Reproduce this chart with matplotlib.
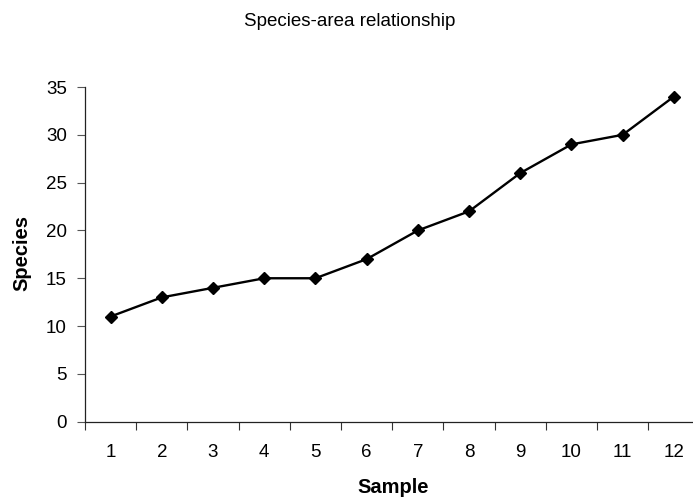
import numpy as np
import matplotlib
matplotlib.use("Agg")
import matplotlib.pyplot as plt
from matplotlib.ticker import FixedLocator, NullFormatter

plt.rcParams['font.family'] = ['Liberation Sans', 'DejaVu Sans']

samples = [1, 2, 3, 4, 5, 6, 7, 8, 9, 10, 11, 12]
species = [11, 13, 14, 15, 15, 17, 20, 22, 26, 29, 30, 34]
y_ticks = [0, 5, 10, 15, 20, 25, 30, 35]

W, H = 693, 499
fig = plt.figure(figsize=(W / 100, H / 100), dpi=100)

# plot area runs slightly past the right edge of the canvas
left, right = 85 / W, 699.5 / W
bottom, top = 1 - 421.7 / H, 1 - 87 / H
ax = fig.add_axes([left, bottom, right - left, top - bottom])

ax.plot(samples, species, color='black', linewidth=1.7,
        marker='D', markersize=6, markerfacecolor='black',
        markeredgecolor='black', clip_on=False, zorder=3)

ax.set_xlim(0.5, 12.5)
ax.set_ylim(0, 35)

# category axis: tick marks between categories, labels under each
ax.xaxis.set_major_locator(FixedLocator(samples))
ax.set_xticklabels([str(s) for s in samples])
ax.xaxis.set_minor_locator(FixedLocator(np.arange(0.5, 13, 1)))
ax.xaxis.set_minor_formatter(NullFormatter())
ax.tick_params(axis='x', which='major', length=0, pad=16, labelsize=13.5)
ax.tick_params(axis='x', which='minor', length=6, width=0.8,
               direction='out', color='#333333')

ax.set_yticks(y_ticks)
ax.tick_params(axis='y', length=6, width=0.8, direction='out',
               color='#555555', pad=7, labelsize=13.5)

for side in ('top', 'right'):
    ax.spines[side].set_visible(False)
for side in ('left', 'bottom'):
    ax.spines[side].set_linewidth(0.9)
    ax.spines[side].set_color('#222222')

fig.text(0.505, 1 - 25.5 / H, 'Species-area relationship',
         ha='center', va='baseline', fontsize=13.5)
fig.text(393 / W, 0.012, 'Sample', ha='center', va='baseline',
         fontsize=14.5, fontweight='bold')
fig.text(22 / W, 0.493, 'Species', ha='center', va='center',
         rotation=90, fontsize=14.5, fontweight='bold')

fig.savefig('out.png', dpi=100)
